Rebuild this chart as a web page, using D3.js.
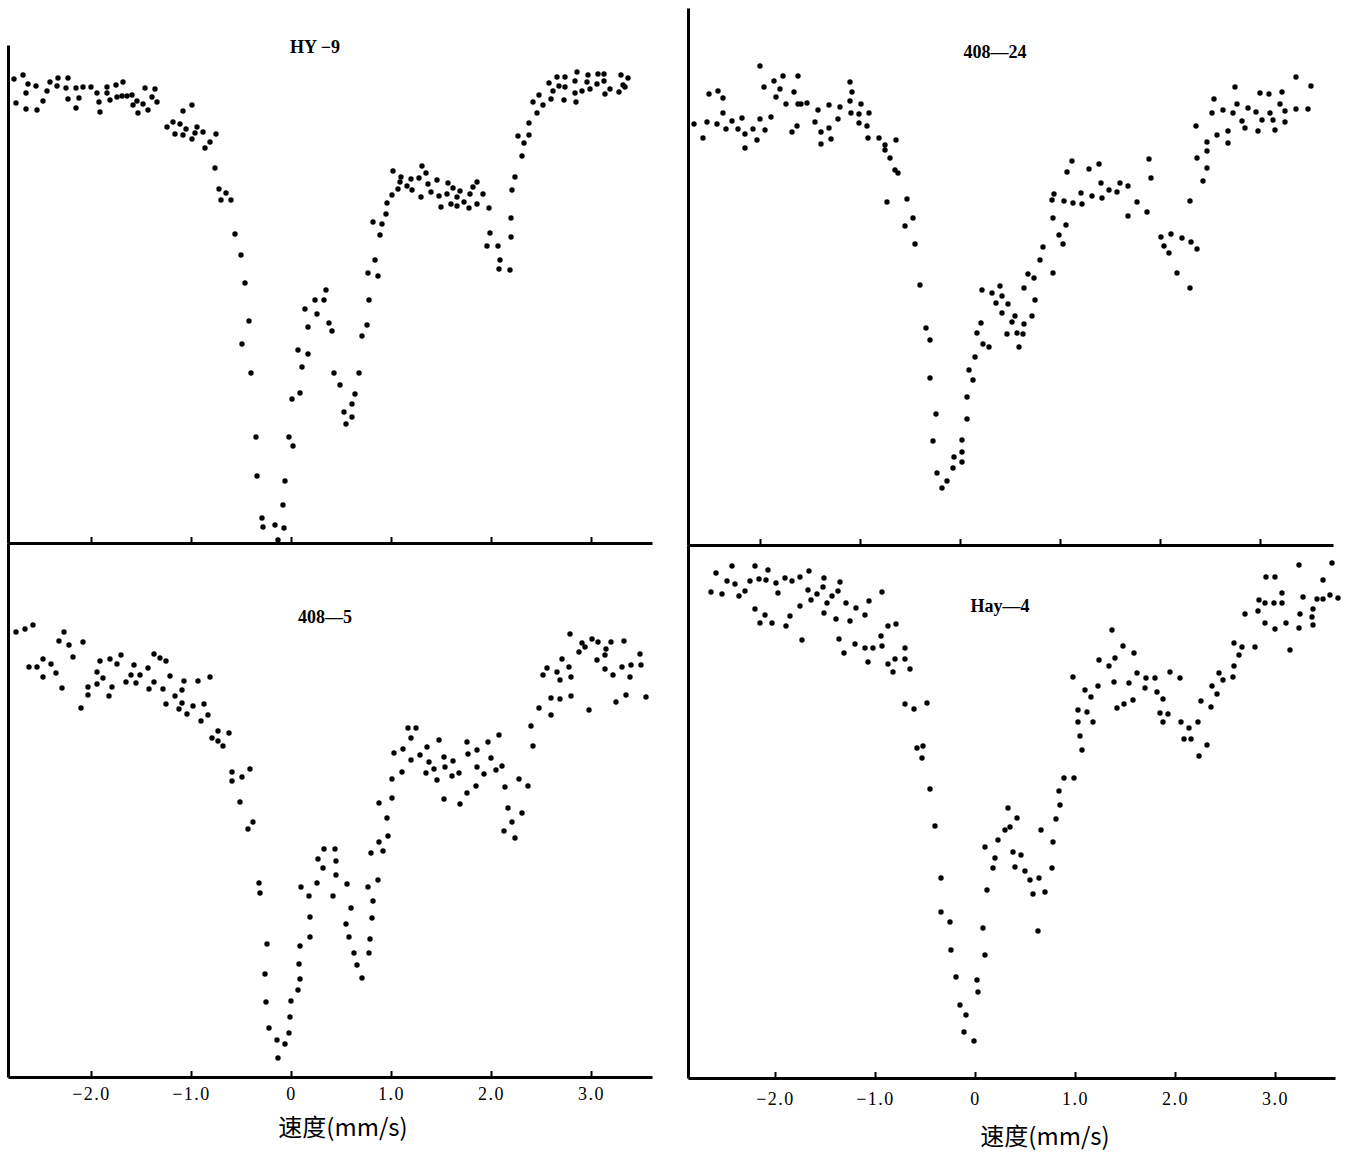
<!DOCTYPE html>
<html>
<head>
<meta charset="utf-8">
<script src="https://cdn.jsdelivr.net/npm/d3@7/dist/d3.min.js"></script>
<style>
    body { margin: 0; background: #fff; }
    svg { display: block; }
    .tick text { font-family: "Liberation Serif", "DejaVu Serif", serif; font-size: 18px; letter-spacing: 1.5px; }
</style>
</head>
<body>
<svg width="1353" height="1153"></svg>
<script>
// sample names, tick values and labels
var sampleNames = ["HY \u22129", "408\u201424", "408\u20145", "Hay\u20144"];
var tickValues = [-2, -1, 0, 1, 2, 3];
var tickLabels = ["\u22122.0", "\u22121.0", "0", "1.0", "2.0", "3.0"];
var axisTitle = "速度(mm/s)";

// HY-9 : velocity (mm/s) and relative transmission
var hy9V = [-2.77,-2.68,-2.75,-2.63,-2.55,-2.65,-2.65,-2.54,-2.48,-2.44,-2.41,-2.34,-2.33,-2.23,-2.25,-2.23,-2.15,-2.15,-2.12,-2.08,
    -2.00,-1.94,-1.92,-1.91,-1.84,-1.84,-1.81,-1.75,-1.68,-1.74,-1.69,-1.64,-1.59,-1.58,-1.54,-1.53,-1.48,-1.46,-1.43,-1.39,
    -1.36,-1.34,-1.24,-1.18,-1.11,-1.08,-0.99,-1.16,-1.08,-1.05,-0.99,-0.94,-0.88,-0.96,-0.81,-0.86,-0.75,-0.76,-0.72,-0.65,
    -0.70,-0.60,-0.56,-0.50,-0.46,-0.42,-0.49,-0.40,-0.35,-0.34,-0.29,-0.28,-0.16,-0.07,-0.13,-0.08,-0.06,-0.02,0.02,0.01,
    0.09,0.11,0.07,0.17,0.17,0.14,0.24,0.26,0.33,0.35,0.38,0.41,0.43,0.49,0.53,0.55,0.61,0.61,0.64,0.68,
    0.71,0.76,0.78,0.77,0.87,0.84,0.82,0.91,0.89,0.95,0.96,1.01,1.02,1.10,1.07,1.09,1.16,1.20,1.21,1.28,
    1.31,1.35,1.30,1.37,1.40,1.46,1.48,1.50,1.56,1.57,1.60,1.62,1.66,1.66,1.69,1.73,1.78,1.79,1.82,1.86,
    1.86,1.92,1.98,1.99,1.96,2.07,2.09,2.08,2.19,2.20,2.20,2.21,2.24,2.31,2.33,2.27,2.38,2.38,2.42,2.46,
    2.48,2.52,2.58,2.60,2.62,2.66,2.68,2.74,2.74,2.73,2.84,2.86,2.84,2.85,2.91,2.96,2.97,2.99,3.06,3.07,
    3.13,3.13,3.14,3.19,3.28,3.30,3.32,3.34,3.37];
var hy9T = [464,468,440,459,457,450,434,433,442,452,461,457,465,465,455,444,455,435,445,456,
    456,450,441,431,456,450,443,458,461,446,447,447,448,438,442,430,439,455,433,446,
    454,441,416,421,419,432,438,409,408,414,404,416,411,410,401,395,409,375,354,350,
    343,343,309,288,260,222,199,170,106,67,25,16,18,15,3,38,62,106,97,144,
    150,176,193,189,216,234,243,229,243,253,220,212,170,158,131,119,126,139,149,170,
    207,218,243,270,267,283,321,319,308,329,340,348,372,366,354,361,357,364,353,365,
    377,370,346,359,351,363,347,336,349,360,339,355,337,346,352,341,335,349,356,361,
    339,349,335,310,297,297,283,274,273,325,306,353,366,387,400,407,408,420,441,430,
    448,438,460,444,452,466,457,466,456,443,462,471,450,441,452,461,468,454,459,469,
    469,462,449,454,451,468,458,456,465];

// 408-24
var s24V = [-2.66,-2.57,-2.53,-2.51,-2.43,-2.42,-2.37,-2.37,-2.34,-2.28,-2.22,-2.18,-2.15,-2.15,-2.07,-2.03,-2.00,-2.00,-1.96,-1.95,
    -1.89,-1.86,-1.84,-1.80,-1.77,-1.74,-1.68,-1.66,-1.63,-1.62,-1.62,-1.59,-1.53,-1.45,-1.42,-1.39,-1.39,-1.31,-1.31,-1.29,
    -1.22,-1.20,-1.10,-1.08,-1.10,-1.09,-1.01,-0.99,-1.01,-0.93,-0.91,-0.92,-0.81,-0.75,-0.75,-0.70,-0.64,-0.65,-0.62,-0.73,
    -0.53,-0.47,-0.55,-0.45,-0.40,-0.34,-0.30,-0.30,-0.24,-0.27,-0.23,-0.13,-0.18,-0.07,-0.06,0.02,0.02,0.02,0.07,0.07,
    0.13,0.09,0.15,0.17,0.21,0.23,0.29,0.22,0.32,0.40,0.36,0.42,0.48,0.42,0.52,0.47,0.55,0.57,0.59,0.63,
    0.64,0.64,0.72,0.75,0.68,0.74,0.80,0.83,0.93,0.93,0.92,0.94,0.99,1.03,1.06,1.04,1.07,1.12,1.13,1.21,
    1.22,1.29,1.32,1.39,1.41,1.42,1.49,1.57,1.60,1.68,1.68,1.77,1.87,1.89,1.91,2.01,2.04,2.09,2.11,2.22,
    2.31,2.37,2.17,2.30,2.30,2.43,2.47,2.37,2.47,2.47,2.36,2.54,2.52,2.57,2.68,2.68,2.63,2.73,2.75,2.77,
    2.82,2.85,2.88,2.96,2.98,3.00,3.02,3.09,3.10,3.13,3.15,3.20,3.22,3.25,3.25,3.36,3.36,3.48,3.51];
var s24T = [421,407,423,451,421,454,447,432,416,424,416,427,411,397,416,405,426,479,458,415,
    428,464,448,456,469,441,413,453,419,469,441,441,442,423,435,413,401,417,440,406,
    426,438,463,453,444,432,431,441,422,419,432,407,407,400,395,387,405,375,372,343,
    346,327,319,301,260,217,205,167,131,104,72,64,57,77,88,83,93,105,126,148,
    165,175,188,212,222,201,198,255,252,259,242,249,241,232,223,211,229,212,198,211,
    221,257,229,245,271,267,285,298,272,327,345,351,310,301,320,344,373,384,342,352,
    341,376,349,381,362,347,355,353,362,359,329,343,333,386,367,308,299,292,311,307,
    303,296,272,257,344,364,377,387,394,403,419,446,432,410,402,414,435,432,458,441,
    424,417,437,433,414,452,425,451,432,425,415,441,453,434,423,468,436,436,459];

// 408-5
var s5V = [-2.75,-2.66,-2.58,-2.27,-2.32,-2.22,-2.08,-2.62,-2.54,-2.48,-2.40,-2.48,-2.35,-2.29,-2.18,-2.10,-2.03,-2.03,-1.94,-1.94,
    -1.88,-1.91,-1.81,-1.74,-1.70,-1.79,-1.82,-1.65,-1.60,-1.57,-1.55,-1.51,-1.43,-1.42,-1.37,-1.31,-1.25,-1.37,-1.28,-1.21,
    -1.16,-1.25,-1.09,-1.07,-1.12,-1.09,-1.04,-0.98,-0.93,-0.90,-0.87,-0.83,-0.81,-0.79,-0.73,-0.73,-0.68,-0.62,-0.59,-0.59,
    -0.49,-0.41,-0.51,-0.38,-0.43,-0.32,-0.31,-0.24,-0.26,-0.25,-0.22,-0.14,-0.06,-0.13,-0.02,-0.01,0.00,0.07,0.09,0.08,
    0.09,0.19,0.19,0.18,0.10,0.26,0.27,0.33,0.44,0.32,0.45,0.45,0.42,0.56,0.60,0.55,0.58,0.63,0.66,0.71,
    0.78,0.79,0.81,0.82,0.77,0.87,0.80,0.88,0.92,0.97,0.96,0.88,1.01,1.01,1.11,1.03,1.12,1.20,1.17,1.25,
    1.20,1.29,1.36,1.38,1.35,1.43,1.46,1.48,1.53,1.54,1.53,1.62,1.61,1.68,1.69,1.76,1.77,1.76,1.85,1.86,
    1.86,1.93,1.97,2.00,2.05,2.08,2.11,2.14,2.17,2.31,2.21,2.13,2.24,2.28,2.37,2.40,2.42,2.48,2.60,2.60,
    2.69,2.80,2.52,2.56,2.66,2.69,2.71,2.78,2.80,2.79,2.88,2.91,2.94,2.98,3.01,3.07,3.06,3.14,3.15,3.20,
    3.14,3.22,3.25,3.33,3.31,3.40,3.39,3.35,3.49,3.50,3.55];
var s5T = [445,448,452,445,436,432,435,410,410,418,413,400,404,389,420,369,390,382,405,393,
    399,416,418,413,422,390,381,395,402,412,394,402,409,388,423,419,416,395,388,401,
    381,373,387,396,368,374,363,371,396,356,373,362,400,339,346,336,331,344,305,296,
    300,308,275,255,248,194,184,133,103,75,49,37,33,19,44,60,76,87,98,113,
    131,140,160,181,190,194,218,228,228,209,216,202,181,193,169,153,140,124,112,99,
    124,138,159,176,190,197,224,235,226,241,259,274,279,298,305,324,328,339,349,349,
    317,322,330,315,304,308,297,337,320,310,278,316,301,304,273,335,323,284,291,327,
    310,303,335,319,307,342,311,290,269,264,255,246,239,298,291,351,331,369,362,379,
    378,381,402,409,405,397,418,410,400,443,425,434,430,367,438,435,417,422,428,435,
    408,402,375,436,410,412,400,382,423,412,380];

// Hay-4
var hayV = [-2.59,-2.43,-2.48,-2.40,-2.64,-2.53,-2.36,-2.30,-2.25,-2.20,-2.16,-2.09,-2.07,-1.99,-1.97,-1.90,-1.83,-1.75,-1.66,-2.20,
    -2.10,-2.15,-2.03,-1.89,-1.85,-1.75,-1.73,-1.64,-1.67,-1.58,-1.51,-1.52,-1.43,-1.37,-1.35,-1.48,-1.51,-1.39,-1.29,-1.25,
    -1.19,-1.10,-1.06,-0.93,-1.36,-1.31,-1.20,-1.10,-1.02,-0.94,-0.93,-1.07,-0.87,-0.79,-0.87,-0.80,-0.70,-0.70,-0.82,-0.65,
    -0.70,-0.61,-0.48,-0.58,-0.52,-0.53,-0.45,-0.40,-0.34,-0.34,-0.25,-0.24,-0.19,-0.15,-0.09,-0.11,-0.01,0.02,0.03,0.10,
    0.08,0.12,0.10,0.18,0.20,0.23,0.30,0.35,0.33,0.42,0.38,0.46,0.40,0.50,0.55,0.64,0.58,0.70,0.63,0.77,
    0.66,0.78,0.81,0.85,0.84,0.89,0.99,1.07,1.05,1.03,1.03,1.12,1.18,1.16,1.10,0.98,1.23,1.24,1.34,1.39,
    1.40,1.37,1.48,1.59,1.54,1.42,1.49,1.58,1.62,1.71,1.70,1.80,1.82,1.88,1.85,1.93,1.88,1.95,2.05,2.06,
    2.09,2.16,2.14,2.23,2.26,2.32,2.24,2.36,2.37,2.42,2.44,2.48,2.58,2.59,2.64,2.59,2.67,2.80,2.70,2.83,
    2.84,2.91,3.00,2.90,2.99,3.07,3.07,2.90,3.00,3.11,3.15,3.24,3.25,3.24,3.28,3.38,3.38,3.37,3.42,3.48,
    3.48,3.55,3.57,3.63];
var hayT = [505,512,497,494,486,484,482,487,497,512,499,498,508,495,485,500,497,501,507,469,
    463,455,455,452,462,472,438,478,488,484,500,491,482,487,496,475,465,459,475,457,
    470,463,477,486,439,425,434,430,430,442,432,416,452,454,414,419,419,430,406,409,
    374,369,375,330,332,320,289,252,200,166,156,128,101,73,63,46,37,98,86,123,
    150,188,231,210,220,238,248,251,270,260,226,223,211,207,198,200,184,186,147,210,
    248,236,259,273,287,300,300,328,342,356,368,366,356,381,388,401,392,418,412,396,
    420,448,432,425,395,370,374,378,405,400,390,400,386,379,365,364,356,406,400,356,
    339,339,350,356,377,333,322,371,392,384,405,398,401,412,423,435,431,431,464,467,
    478,501,501,475,475,475,485,455,449,455,428,513,464,450,481,469,453,461,479,479,
    498,483,515,480];

var panels = [
    {name: sampleNames[0], v: hy9V, t: hy9T, left: 8, right: 652, top: 45, bottom: 543, xMin: -2.83, xMax: 3.61,
        labels: false, titleX: 315, titleY: 53},
    {name: sampleNames[1], v: s24V, t: s24T, left: 688, right: 1333, top: 8, bottom: 545, xMin: -2.72, xMax: 3.73,
        labels: false, titleX: 995, titleY: 58},
    {name: sampleNames[2], v: s5V, t: s5T, left: 8, right: 652, top: 543, bottom: 1077, xMin: -2.83, xMax: 3.61,
        labels: true, titleX: 325, titleY: 623, axisTitleX: 343, axisTitleY: 1136, pad: 10},
    {name: sampleNames[3], v: hayV, t: hayT, left: 688, right: 1335, top: 545, bottom: 1078, xMin: -2.87, xMax: 3.60,
        labels: true, titleX: 1000, titleY: 612, axisTitleX: 1045, axisTitleY: 1145, pad: 14}
];

var svg = d3.select("svg");

panels.forEach(function (p) {
    var x = d3.scaleLinear().domain([p.xMin, p.xMax]).range([p.left, p.right]);
    var y = d3.scaleLinear().domain([0, p.bottom - p.top]).range([p.bottom, p.top]);

    var g = svg.append("g");

    // points
    g.selectAll("circle")
        .data(p.v.map(function (d, i) { return {v: d, t: p.t[i]}; }))
        .enter().append("circle")
        .attr("cx", function (d) { return x(d.v); })
        .attr("cy", function (d) { return y(d.t); })
        .attr("r", 2.7)
        .attr("fill", "#000");

    // x axis, ticks pointing up
    var xAxis = d3.axisBottom(x)
        .tickValues(tickValues)
        .tickSize(-6)
        .tickSizeOuter(0)
        .tickPadding(p.pad || 8)
        .tickFormat(function (d, i) { return p.labels ? tickLabels[i] : ""; });

    var ax = g.append("g")
        .attr("transform", "translate(0," + p.bottom + ")")
        .call(xAxis);
    ax.select(".domain").attr("stroke", "#000").attr("stroke-width", 3);
    ax.selectAll(".tick line").attr("stroke", "#000").attr("stroke-width", 2);
    ax.selectAll(".tick text").attr("fill", "#000");

    // y axis, no ticks
    var ay = g.append("g")
        .attr("transform", "translate(" + p.left + ",0)")
        .call(d3.axisLeft(y).tickValues([]).tickSizeOuter(0));
    ay.select(".domain").attr("stroke", "#000").attr("stroke-width", 3);

    // sample name
    g.append("text")
        .attr("x", p.titleX)
        .attr("y", p.titleY)
        .attr("text-anchor", "middle")
        .attr("font-family", "Liberation Serif, DejaVu Serif, serif")
        .attr("font-weight", "bold")
        .attr("font-size", 18)
        .text(p.name);

    if (p.labels) {
        g.append("text")
            .attr("x", p.axisTitleX)
            .attr("y", p.axisTitleY)
            .attr("text-anchor", "middle")
            .attr("font-family", "Noto Sans CJK SC, sans-serif")
            .attr("font-size", 24)
            .text(axisTitle);
    }
});
</script>
</body>
</html>
